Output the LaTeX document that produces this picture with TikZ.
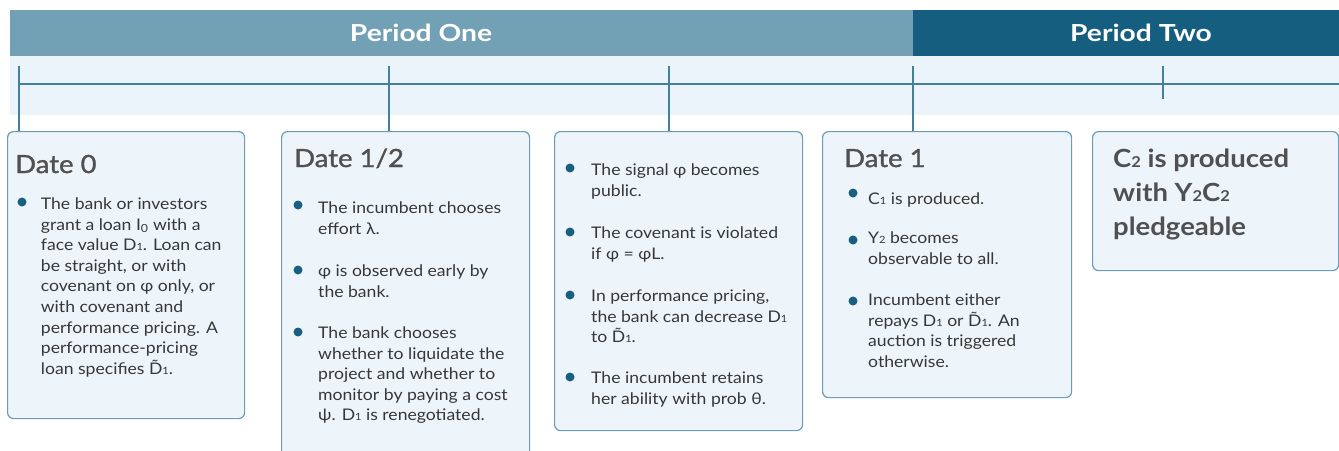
\documentclass[tikz,border=0pt]{standalone}
\usepackage{fontspec}
\setmainfont{Lato}[FakeStretch=1.1]
\newfontfamily\widefont{Lato}[FakeStretch=1.2]
\newfontfamily\medfont{Lato}[FakeStretch=1.1,FakeBold=1.3]
\usetikzlibrary{positioning,calc}
\definecolor{periodone}{RGB}{114,160,181}
\definecolor{periodtwo}{RGB}{22,94,128}
\definecolor{bandblue}{RGB}{234,244,250}
\definecolor{boxfill}{RGB}{237,245,251}
\definecolor{boxline}{RGB}{108,156,182}
\definecolor{lineblue}{RGB}{66,128,158}
\definecolor{bulletblue}{RGB}{24,95,130}
\definecolor{bodytext}{RGB}{55,55,55}
\definecolor{titlegray}{RGB}{80,80,80}
\newcommand{\lowfig}[1]{{\fontsize{10}{10}\selectfont #1}}
\newcommand{\bigfig}[1]{{\fontsize{15}{15}\selectfont #1}}
\tikzset{
  x=1pt,y=-1pt,
  bar/.style={anchor=north west,inner sep=0pt,minimum height=46pt},
  heading/.style={font=\widefont\bfseries\fontsize{23.5}{26}\selectfont,text=white},
  panel/.style={draw=boxline,fill=boxfill,rounded corners=6pt,line width=1.2pt,anchor=north west,inner sep=0pt},
  datehead/.style={anchor=base west,inner sep=0pt,text=titlegray,font=\medfont\fontsize{25}{30}\selectfont},
  item/.style={anchor=north west,align=left,inner sep=0pt,text=bodytext,font=\fontsize{16}{20.6}\selectfont,execute at begin node=\strut},
  bigtext/.style={anchor=north west,align=left,inner sep=0pt,text=titlegray,font=\bfseries\fontsize{25}{34}\selectfont,execute at begin node=\strut},
  bulletdot/.style={circle,fill=bulletblue,inner sep=0pt,minimum size=9pt},
  axisline/.style={draw=lineblue,line width=2pt},
}

\begin{document}
\begin{tikzpicture}
  \useasboundingbox (0,0) rectangle (1339,450);
  % period bars and timeline band
  \node[bar,fill=periodone,minimum width=903pt] (p1) at (10,10) {};
  \node[bar,fill=periodtwo,minimum width=426pt] (p2) at (913,10) {};
  \node[heading] (p1t) at (421,33) {Period One};
  \node[heading] (p2t) at (1141,33) {Period Two};
  \fill[bandblue] (10,56) rectangle (1339,115);

  % boxes
  \node[panel,minimum width=237pt,minimum height=287pt] (d0) at (7,131) {};
  \node[panel,minimum width=248pt,minimum height=330pt] (dh) at (281,131) {};
  \node[panel,minimum width=248pt,minimum height=299pt] (dm) at (554,131) {};
  \node[panel,minimum width=249pt,minimum height=266pt] (d1) at (822,131) {};
  \node[panel,minimum width=246pt,minimum height=139pt] (d2) at (1092,131) {};

  % timeline
  \coordinate (t0) at (19,66);
  \coordinate (th) at (389,66);
  \coordinate (tm) at (669,66);
  \coordinate (t1) at (913,66);
  \coordinate (t2) at (1163,66);
  \coordinate (tend) at (1339,84);
  \draw[axisline] (t0 |- tend) -- (tend);
  \draw[axisline] (t0) -- (t0 |- d0.north);
  \draw[axisline] (th) -- (th |- dh.north);
  \draw[axisline] (tm) -- (tm |- dm.north);
  \draw[axisline] (t1) -- (t1 |- d1.north);
  \draw[axisline] (t2) -- ++(0,33);

  % date 0
  \node[datehead] (d0h) at (15,173) {Date 0};
  \node[bulletdot] (d0a-b) at (22,202) {};
  \node[item] (d0a) at (40.7,197.6) {The bank or investors\\grant a loan I\textsubscript{0} with a\\face value D\lowfig{1}. Loan can\\be straight, or with\\covenant on φ only, or\\with covenant and\\performance pricing. A\\performance-pricing\\loan specifies \~{D}\lowfig{1}.};

  % date 1/2
  \node[datehead] (dhh) at (294,167) {Date 1/2};
  \node[bulletdot] (dha-b) at (298,205) {};
  \node[item] (dha) at (318,201.6) {The incumbent chooses\\effort λ.};
  \node[bulletdot] (dhb-b) at (298,270) {};
  \node[item] (dhb) at (318,264.6) {φ is observed early by\\the bank.};
  \node[bulletdot] (dhc-b) at (298,332) {};
  \node[item] (dhc) at (318,326.6) {The bank chooses\\whether to liquidate the\\project and whether to\\monitor by paying a cost\\ψ. D\lowfig{1} is renegotiated.};

  % between the dates
  \node[bulletdot] (dma-b) at (570,168) {};
  \node[item] (dma) at (591,163.6) {The signal φ becomes\\public.};
  \node[bulletdot] (dmb-b) at (570,232) {};
  \node[item] (dmb) at (591,226.6) {The covenant is violated\\if φ = φL.};
  \node[bulletdot] (dmc-b) at (570,295) {};
  \node[item] (dmc) at (591,289.6) {In performance pricing,\\the bank can decrease D\lowfig{1}\\to \~{D}\lowfig{1}.};
  \node[bulletdot] (dmd-b) at (570,377) {};
  \node[item] (dmd) at (591,371.6) {The incumbent retains\\her ability with prob θ.};

  % date 1
  \node[datehead] (d1h) at (844,167) {Date 1};
  \node[bulletdot] (d1a-b) at (853,193) {};
  \node[item] (d1a) at (868,189.6) {C\lowfig{1} is produced.};
  \node[bulletdot] (d1b-b) at (853,240) {};
  \node[item] (d1b) at (868,231.6) {Y\lowfig{2} becomes\\observable to all.};
  \node[bulletdot] (d1c-b) at (853,301) {};
  \node[item] (d1c) at (868,293.6) {Incumbent either\\repays D\lowfig{1} or \~{D}\lowfig{1}. An\\auction is triggered\\otherwise.};

  % date 2
  \node[bigtext] (d2t) at (1113,149.2) {C\bigfig{2} is produced\\with Y\bigfig{2}C\bigfig{2}\\pledgeable};
\end{tikzpicture}
\end{document}
